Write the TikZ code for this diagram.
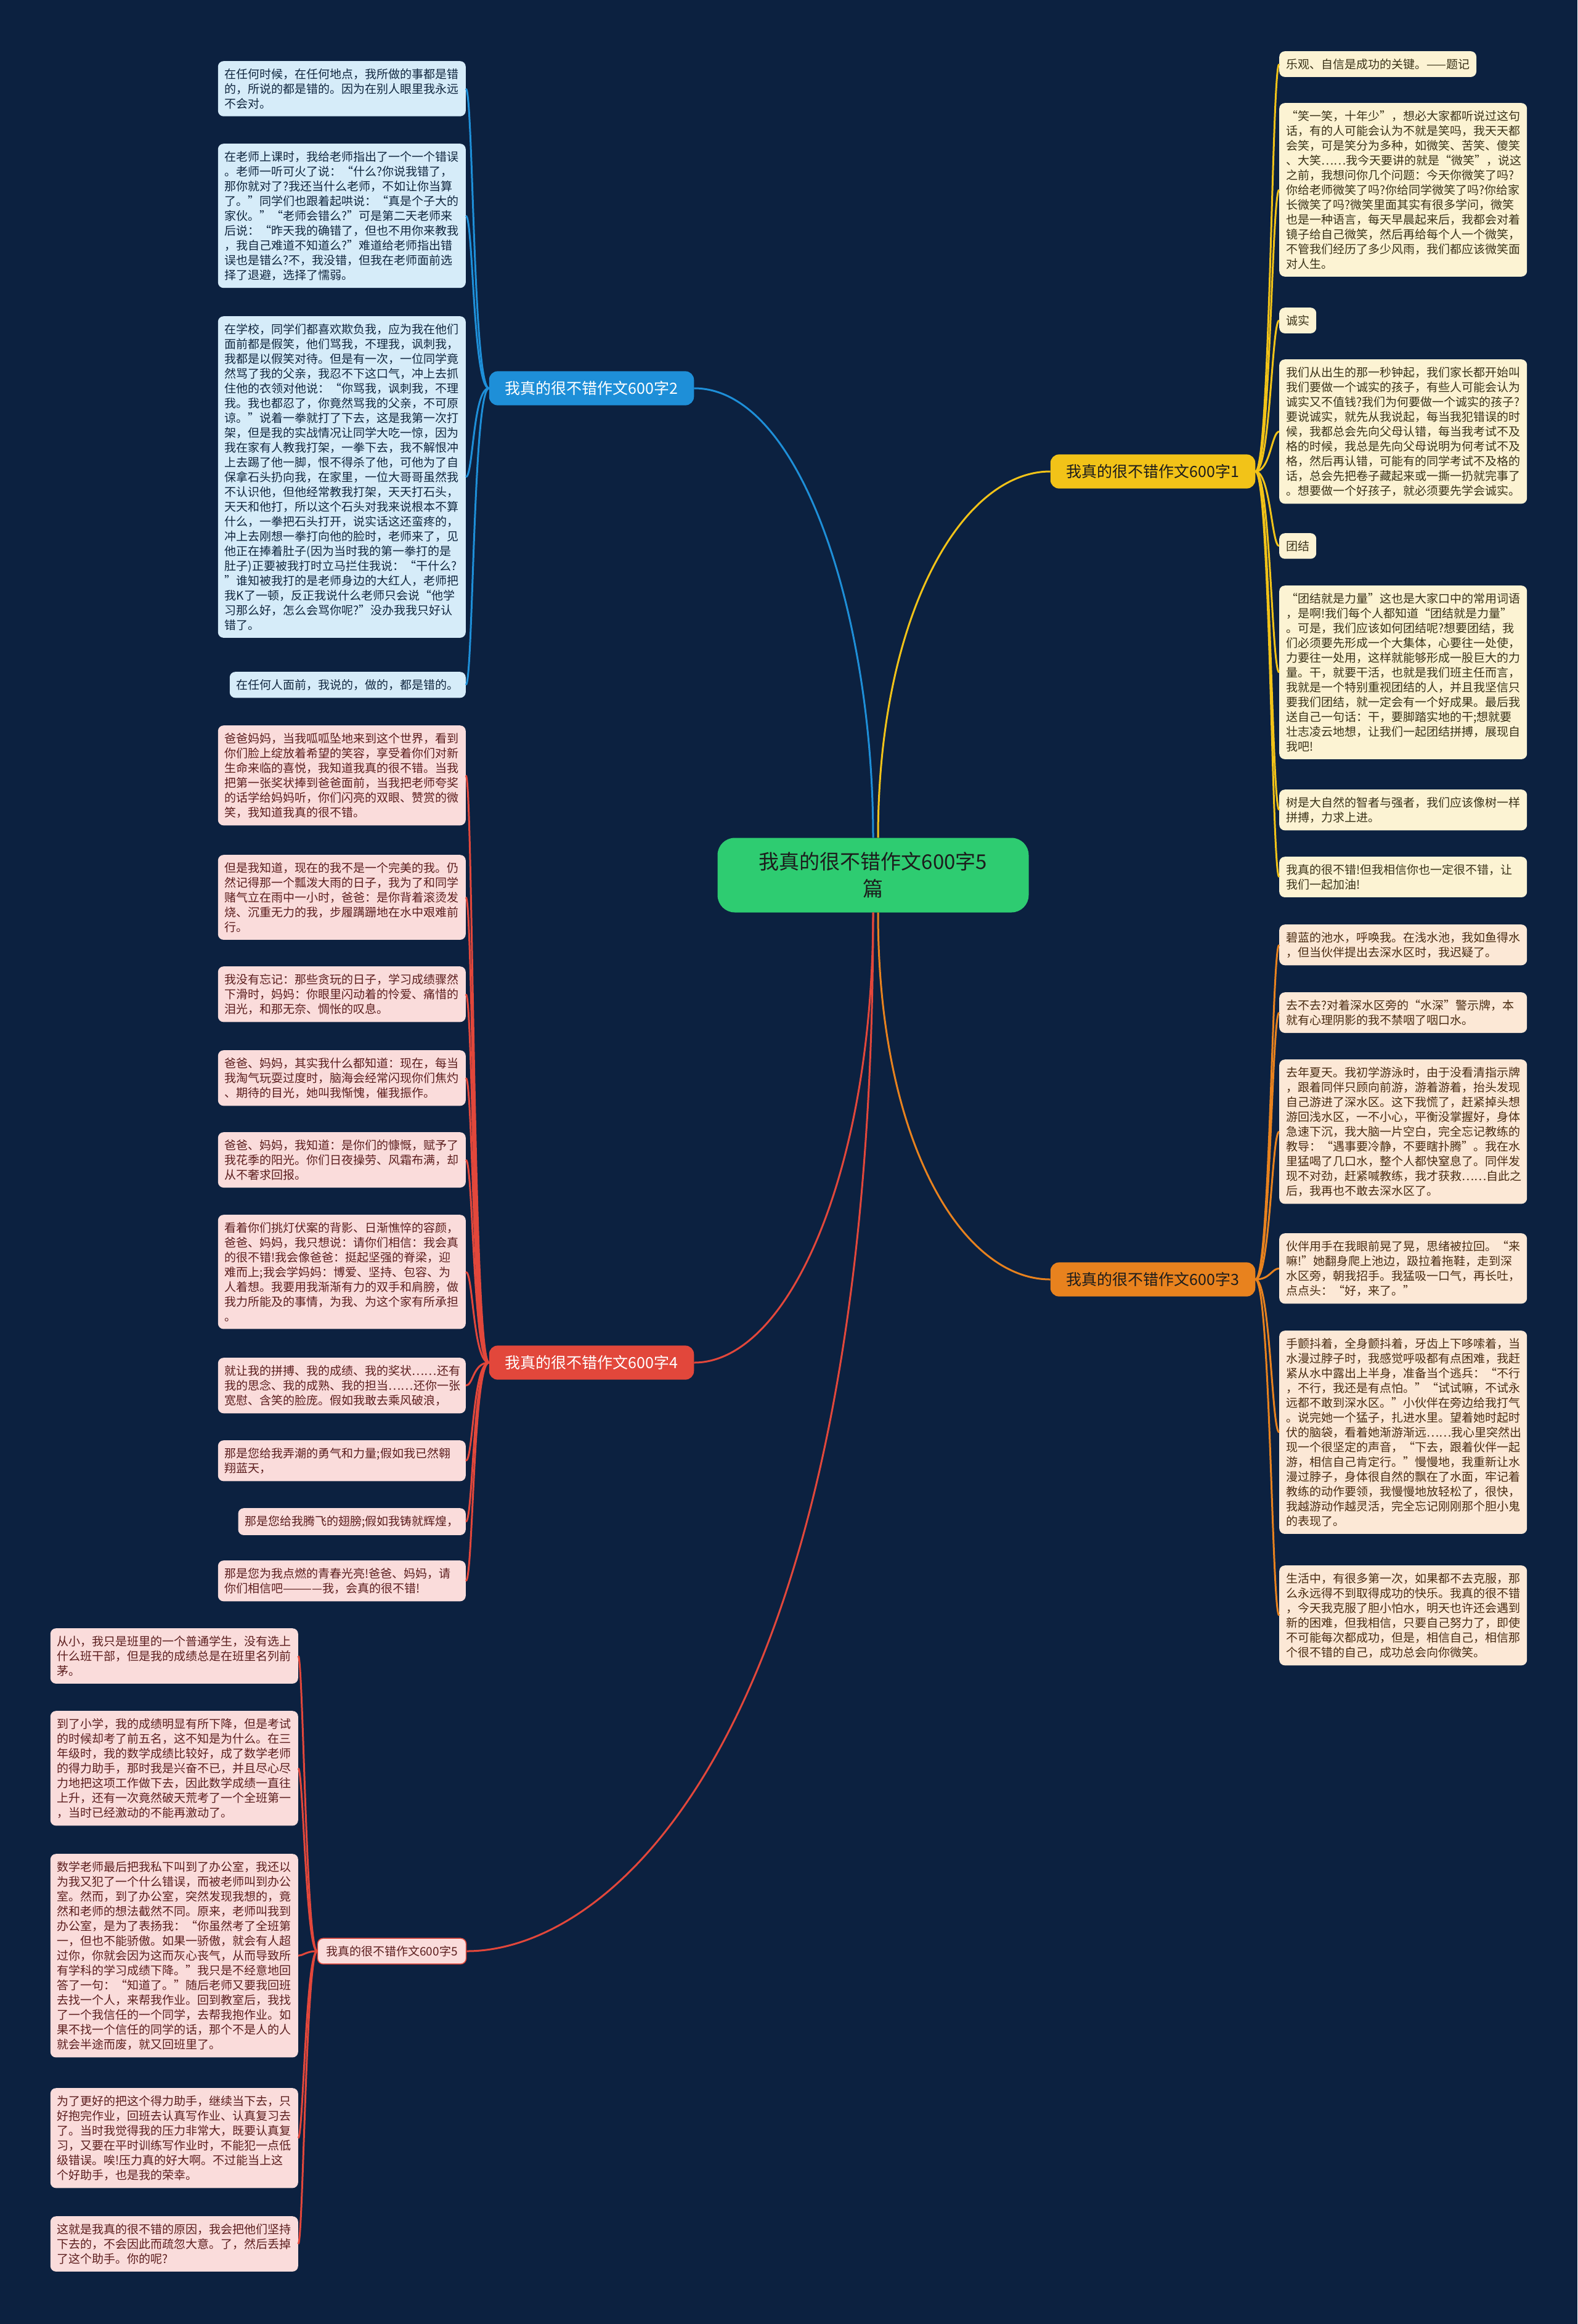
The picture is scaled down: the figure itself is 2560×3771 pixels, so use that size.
\documentclass[tikz,border=0pt]{standalone}
\usepackage{fontspec}
\setmainfont{Noto Sans CJK SC}
\usetikzlibrary{calc}
\definecolor{BgClr}{HTML}{0C2140}
\definecolor{CtrClr}{HTML}{2ECC71}
\definecolor{BlueClr}{HTML}{1E8FD8}
\definecolor{BlueLeaf}{HTML}{D6ECF9}
\definecolor{BlueInk}{HTML}{10263F}
\definecolor{YelClr}{HTML}{F2C318}
\definecolor{YelLeaf}{HTML}{FCF3D3}
\definecolor{YelInk}{HTML}{3A3218}
\definecolor{OrgClr}{HTML}{E8821E}
\definecolor{OrgLeaf}{HTML}{FCE8D6}
\definecolor{OrgInk}{HTML}{4A2C12}
\definecolor{RedClr}{HTML}{E2473B}
\definecolor{RedLeaf}{HTML}{FADCDB}
\definecolor{RedInk}{HTML}{5C1E1E}
\definecolor{InkClr}{HTML}{1C1C1C}

\tikzset{
  leaf/.style={rounded corners=9pt,inner xsep=11pt,inner ysep=12pt,align=left,
    font=\fontsize{19}{24}\selectfont},
  wide/.style={text width=380pt},
  lblue/.style={leaf,fill=BlueLeaf,text=BlueInk},
  lyel/.style={leaf,fill=YelLeaf,text=YelInk},
  lorg/.style={leaf,fill=OrgLeaf,text=OrgInk},
  lred/.style={leaf,fill=RedLeaf,text=RedInk},
  branch/.style={rounded corners=14pt,inner xsep=26pt,inner ysep=16pt,
    font=\fontsize{25}{30}\selectfont},
  link/.style={line width=3pt}
}

\begin{document}
\begin{tikzpicture}[x=1pt,y=-1pt]
\fill[BgClr] (0,0) rectangle (2560,3771);
\useasboundingbox (0,0) rectangle (2560,3771);

% centre and main branches
\node[rounded corners=28pt,fill=CtrClr,text=InkClr,align=center,minimum width=505pt,
  minimum height=121pt,font=\fontsize{33}{44}\selectfont] (O) at (1417,1420)
  {我真的很不错作文600字5\\篇};
\node[branch,fill=BlueClr,text=white] (B2) at (960,630) {我真的很不错作文600字2};
\node[branch,fill=YelClr,text=InkClr] (B1) at (1871,765) {我真的很不错作文600字1};
\node[branch,fill=OrgClr,text=InkClr] (B3) at (1871,2076) {我真的很不错作文600字3};
\node[branch,fill=RedClr,text=white] (B4) at (960,2211) {我真的很不错作文600字4};
\node[leaf,fill=RedLeaf,text=RedInk,draw=RedClr,line width=1.5pt,inner xsep=14pt,inner ysep=12pt] (B5) at (636,3166) {我真的很不错作文600字5};

\draw[link,BlueClr] (O.north) .. controls (1417,1000) and (1300,630) .. (B2.east);
\draw[link,YelClr] ($(O.north)+(8,0)$) .. controls (1425,1000) and (1560,765) .. (B1.west);
\draw[link,OrgClr] ($(O.south)+(8,0)$) .. controls (1425,1850) and (1560,2076) .. (B3.west);
\draw[link,RedClr] (O.south) .. controls (1417,1900) and (1280,2211) .. (B4.east);
\draw[link,RedClr] (O.south) .. controls (1417,2800) and (1000,3166) .. (B5.east);

% branch 2
\node[lblue,wide,anchor=north east] (L2a) at (756,99) {在任何时候，在任何地点，我所做的事都是错\\的，所说的都是错的。因为在别人眼里我永远\\不会对。};
\node[lblue,wide,anchor=north east] (L2b) at (756,233) {在老师上课时，我给老师指出了一个一个错误\\。老师一听可火了说：“什么?你说我错了，\\那你就对了?我还当什么老师，不如让你当算\\了。”同学们也跟着起哄说：“真是个子大的\\家伙。”“老师会错么?”可是第二天老师来\\后说：“昨天我的确错了，但也不用你来教我\\，我自己难道不知道么?”难道给老师指出错\\误也是错么?不，我没错，但我在老师面前选\\择了退避，选择了懦弱。};
\node[lblue,wide,anchor=north east] (L2c) at (756,513) {在学校，同学们都喜欢欺负我，应为我在他们\\面前都是假笑，他们骂我，不理我，讽刺我，\\我都是以假笑对待。但是有一次，一位同学竟\\然骂了我的父亲，我忍不下这口气，冲上去抓\\住他的衣领对他说：“你骂我，讽刺我，不理\\我。我也都忍了，你竟然骂我的父亲，不可原\\谅。”说着一拳就打了下去，这是我第一次打\\架，但是我的实战情况让同学大吃一惊，因为\\我在家有人教我打架，一拳下去，我不解恨冲\\上去踢了他一脚，恨不得杀了他，可他为了自\\保拿石头扔向我，在家里，一位大哥哥虽然我\\不认识他，但他经常教我打架，天天打石头，\\天天和他打，所以这个石头对我来说根本不算\\什么，一拳把石头打开，说实话这还蛮疼的，\\冲上去刚想一拳打向他的脸时，老师来了，见\\他正在捧着肚子(因为当时我的第一拳打的是\\肚子)正要被我打时立马拦住我说：“干什么?\\”谁知被我打的是老师身边的大红人，老师把\\我K了一顿，反正我说什么老师只会说“他学\\习那么好，怎么会骂你呢?”没办我我只好认\\错了。};
\node[lblue,anchor=north east] (L2d) at (756,1090) {在任何人面前，我说的，做的，都是错的。};

\foreach \n in {L2a,L2b,L2c,L2d}
  \draw[link,BlueClr] (B2.west) .. controls ($(B2.west)+(-26,0)$) and ($(\n.east)+(12,0)$) .. (\n.east);

% branch 4
\node[lred,wide,anchor=north east] (L4a) at (756,1177) {爸爸妈妈，当我呱呱坠地来到这个世界，看到\\你们脸上绽放着希望的笑容，享受着你们对新\\生命来临的喜悦，我知道我真的很不错。当我\\把第一张奖状捧到爸爸面前，当我把老师夸奖\\的话学给妈妈听，你们闪亮的双眼、赞赏的微\\笑，我知道我真的很不错。};
\node[lred,wide,anchor=north east] (L4b) at (756,1387) {但是我知道，现在的我不是一个完美的我。仍\\然记得那一个瓢泼大雨的日子，我为了和同学\\赌气立在雨中一小时，爸爸：是你背着滚烫发\\烧、沉重无力的我，步履蹒跚地在水中艰难前\\行。};
\node[lred,wide,anchor=north east] (L4c) at (756,1568) {我没有忘记：那些贪玩的日子，学习成绩骤然\\下滑时，妈妈：你眼里闪动着的怜爱、痛惜的\\泪光，和那无奈、惆怅的叹息。};
\node[lred,wide,anchor=north east] (L4d) at (756,1704) {爸爸、妈妈，其实我什么都知道：现在，每当\\我淘气玩耍过度时，脑海会经常闪现你们焦灼\\、期待的目光，她叫我惭愧，催我振作。};
\node[lred,wide,anchor=north east] (L4e) at (756,1837) {爸爸、妈妈，我知道：是你们的慷慨，赋予了\\我花季的阳光。你们日夜操劳、风霜布满，却\\从不奢求回报。};
\node[lred,wide,anchor=north east] (L4f) at (756,1971) {看着你们挑灯伏案的背影、日渐憔悴的容颜，\\爸爸、妈妈，我只想说：请你们相信：我会真\\的很不错!我会像爸爸：挺起坚强的脊梁，迎\\难而上;我会学妈妈：博爱、坚持、包容、为\\人着想。我要用我渐渐有力的双手和肩膀，做\\我力所能及的事情，为我、为这个家有所承担\\。};
\node[lred,wide,anchor=north east] (L4g) at (756,2203) {就让我的拼搏、我的成绩、我的奖状……还有\\我的思念、我的成熟、我的担当……还你一张\\宽慰、含笑的脸庞。假如我敢去乘风破浪，};
\node[lred,wide,anchor=north east] (L4h) at (756,2337) {那是您给我弄潮的勇气和力量;假如我已然翱\\翔蓝天，};
\node[lred,anchor=north east] (L4i) at (756,2447) {那是您给我腾飞的翅膀;假如我铸就辉煌，};
\node[lred,wide,anchor=north east] (L4j) at (756,2532) {那是您为我点燃的青春光亮!爸爸、妈妈，请\\你们相信吧————我，会真的很不错!};

\foreach \n in {L4a,L4b,L4c,L4d,L4e,L4f,L4g,L4h,L4i,L4j}
  \draw[link,RedClr] (B4.west) .. controls ($(B4.west)+(-26,0)$) and ($(\n.east)+(12,0)$) .. (\n.east);

% branch 5
\node[lred,wide,anchor=north east] (L5a) at (484,2642) {从小，我只是班里的一个普通学生，没有选上\\什么班干部，但是我的成绩总是在班里名列前\\茅。};
\node[lred,wide,anchor=north east] (L5b) at (484,2776) {到了小学，我的成绩明显有所下降，但是考试\\的时候却考了前五名，这不知是为什么。在三\\年级时，我的数学成绩比较好，成了数学老师\\的得力助手，那时我是兴奋不已，并且尽心尽\\力地把这项工作做下去，因此数学成绩一直往\\上升，还有一次竟然破天荒考了一个全班第一\\，当时已经激动的不能再激动了。};
\node[lred,wide,anchor=north east] (L5c) at (484,3008) {数学老师最后把我私下叫到了办公室，我还以\\为我又犯了一个什么错误，而被老师叫到办公\\室。然而，到了办公室，突然发现我想的，竟\\然和老师的想法截然不同。原来，老师叫我到\\办公室，是为了表扬我：“你虽然考了全班第\\一，但也不能骄傲。如果一骄傲，就会有人超\\过你，你就会因为这而灰心丧气，从而导致所\\有学科的学习成绩下降。”我只是不经意地回\\答了一句：“知道了。”随后老师又要我回班\\去找一个人，来帮我作业。回到教室后，我找\\了一个我信任的一个同学，去帮我抱作业。如\\果不找一个信任的同学的话，那个不是人的人\\就会半途而废，就又回班里了。};
\node[lred,wide,anchor=north east] (L5d) at (484,3388) {为了更好的把这个得力助手，继续当下去，只\\好抱完作业，回班去认真写作业、认真复习去\\了。当时我觉得我的压力非常大，既要认真复\\习，又要在平时训练写作业时，不能犯一点低\\级错误。唉!压力真的好大啊。不过能当上这\\个好助手，也是我的荣幸。};
\node[lred,wide,anchor=north east] (L5e) at (484,3596) {这就是我真的很不错的原因，我会把他们坚持\\下去的，不会因此而疏忽大意。了，然后丢掉\\了这个助手。你的呢?};

\foreach \n in {L5a,L5b,L5c,L5d,L5e}
  \draw[link,RedClr] (B5.west) .. controls ($(B5.west)+(-18,0)$) and ($(\n.east)+(8,0)$) .. (\n.east);

% branch 1
\node[lyel,anchor=north west] (R1a) at (2076,83) {乐观、自信是成功的关键。——题记};
\node[lyel,wide,anchor=north west] (R1b) at (2076,167) {“笑一笑，十年少”，想必大家都听说过这句\\话，有的人可能会认为不就是笑吗，我天天都\\会笑，可是笑分为多种，如微笑、苦笑、傻笑\\、大笑……我今天要讲的就是“微笑”，说这\\之前，我想问你几个问题：今天你微笑了吗?\\你给老师微笑了吗?你给同学微笑了吗?你给家\\长微笑了吗?微笑里面其实有很多学问，微笑\\也是一种语言，每天早晨起来后，我都会对着\\镜子给自己微笑，然后再给每个人一个微笑，\\不管我们经历了多少风雨，我们都应该微笑面\\对人生。};
\node[lyel,anchor=north west] (R1c) at (2076,499) {诚实};
\node[lyel,wide,anchor=north west] (R1d) at (2076,583) {我们从出生的那一秒钟起，我们家长都开始叫\\我们要做一个诚实的孩子，有些人可能会认为\\诚实又不值钱?我们为何要做一个诚实的孩子?\\要说诚实，就先从我说起，每当我犯错误的时\\候，我都总会先向父母认错，每当我考试不及\\格的时候，我总是先向父母说明为何考试不及\\格，然后再认错，可能有的同学考试不及格的\\话，总会先把卷子藏起来或一撕一扔就完事了\\。想要做一个好孩子，就必须要先学会诚实。};
\node[lyel,anchor=north west] (R1e) at (2076,865) {团结};
\node[lyel,wide,anchor=north west] (R1f) at (2076,950) {“团结就是力量”这也是大家口中的常用词语\\，是啊!我们每个人都知道“团结就是力量”\\。可是，我们应该如何团结呢?想要团结，我\\们必须要先形成一个大集体，心要往一处使，\\力要往一处用，这样就能够形成一股巨大的力\\量。干，就要干活，也就是我们班主任而言，\\我就是一个特别重视团结的人，并且我坚信只\\要我们团结，就一定会有一个好成果。最后我\\送自己一句话：干，要脚踏实地的干;想就要\\壮志凌云地想，让我们一起团结拼搏，展现自\\我吧!};
\node[lyel,wide,anchor=north west] (R1g) at (2076,1281) {树是大自然的智者与强者，我们应该像树一样\\拼搏，力求上进。};
\node[lyel,wide,anchor=north west] (R1h) at (2076,1390) {我真的很不错!但我相信你也一定很不错，让\\我们一起加油!};

\foreach \n in {R1a,R1b,R1c,R1d,R1e,R1f,R1g,R1h}
  \draw[link,YelClr] (B1.east) .. controls ($(B1.east)+(24,0)$) and ($(\n.west)+(-12,0)$) .. (\n.west);

% branch 3
\node[lorg,wide,anchor=north west] (R3a) at (2076,1500) {碧蓝的池水，呼唤我。在浅水池，我如鱼得水\\，但当伙伴提出去深水区时，我迟疑了。};
\node[lorg,wide,anchor=north west] (R3b) at (2076,1610) {去不去?对着深水区旁的“水深”警示牌，本\\就有心理阴影的我不禁咽了咽口水。};
\node[lorg,wide,anchor=north west] (R3c) at (2076,1719) {去年夏天。我初学游泳时，由于没看清指示牌\\，跟着同伴只顾向前游，游着游着，抬头发现\\自己游进了深水区。这下我慌了，赶紧掉头想\\游回浅水区，一不小心，平衡没掌握好，身体\\急速下沉，我大脑一片空白，完全忘记教练的\\教导：“遇事要冷静，不要瞎扑腾”。我在水\\里猛喝了几口水，整个人都快窒息了。同伴发\\现不对劲，赶紧喊教练，我才获救……自此之\\后，我再也不敢去深水区了。};
\node[lorg,wide,anchor=north west] (R3d) at (2076,2001) {伙伴用手在我眼前晃了晃，思绪被拉回。“来\\嘛!”她翻身爬上池边，趿拉着拖鞋，走到深\\水区旁，朝我招手。我猛吸一口气，再长吐，\\点点头：“好，来了。”};
\node[lorg,wide,anchor=north west] (R3e) at (2076,2159) {手颤抖着，全身颤抖着，牙齿上下哆嗦着，当\\水漫过脖子时，我感觉呼吸都有点困难，我赶\\紧从水中露出上半身，准备当个逃兵：“不行\\，不行，我还是有点怕。”“试试嘛，不试永\\远都不敢到深水区。”小伙伴在旁边给我打气\\。说完她一个猛子，扎进水里。望着她时起时\\伏的脑袋，看着她渐游渐远……我心里突然出\\现一个很坚定的声音，“下去，跟着伙伴一起\\游，相信自己肯定行。”慢慢地，我重新让水\\漫过脖子，身体很自然的飘在了水面，牢记着\\教练的动作要领，我慢慢地放轻松了，很快，\\我越游动作越灵活，完全忘记刚刚那个胆小鬼\\的表现了。};
\node[lorg,wide,anchor=north west] (R3f) at (2076,2540) {生活中，有很多第一次，如果都不去克服，那\\么永远得不到取得成功的快乐。我真的很不错\\，今天我克服了胆小怕水，明天也许还会遇到\\新的困难，但我相信，只要自己努力了，即使\\不可能每次都成功，但是，相信自己，相信那\\个很不错的自己，成功总会向你微笑。};

\foreach \n in {R3a,R3b,R3c,R3d,R3e,R3f}
  \draw[link,OrgClr] (B3.east) .. controls ($(B3.east)+(24,0)$) and ($(\n.west)+(-12,0)$) .. (\n.west);

\end{tikzpicture}
\end{document}
